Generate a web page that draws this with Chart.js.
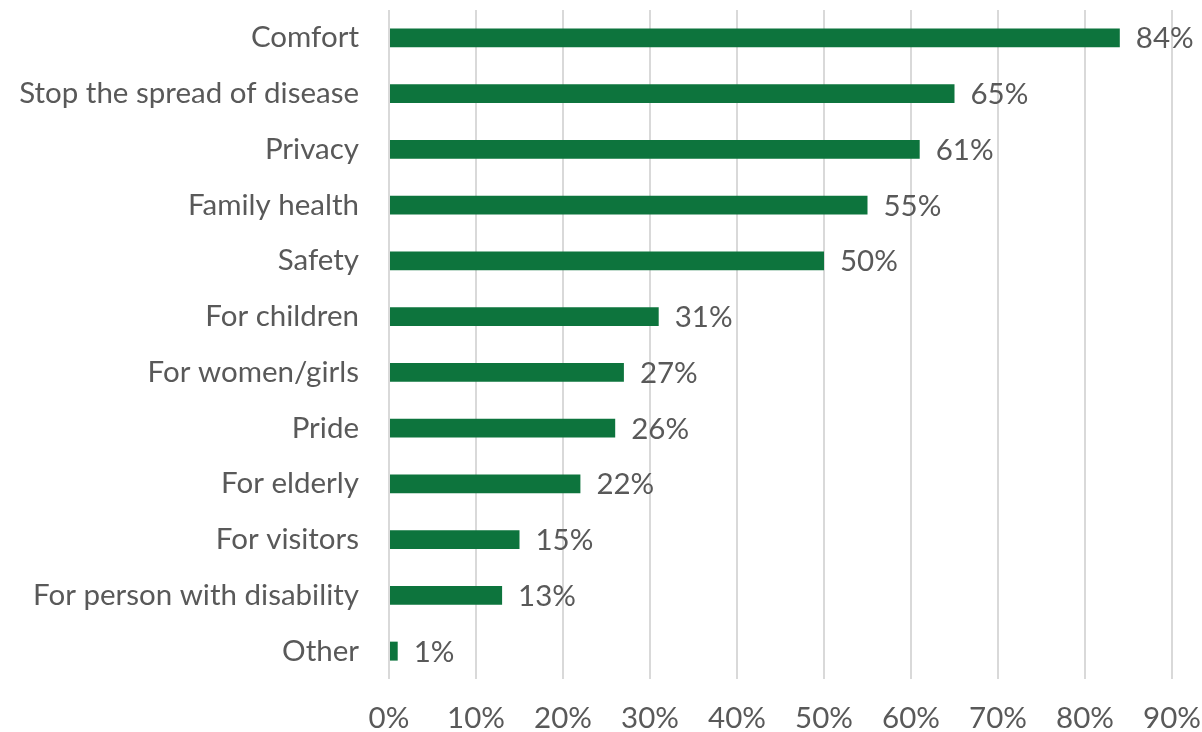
<!DOCTYPE html>
<html>
<head>
<meta charset="utf-8">
<script src="https://cdn.jsdelivr.net/npm/chart.js@4"></script>
<style>
  html, body { margin: 0; padding: 0; background: #fff; }
  #wrap { width: 1202px; height: 732px; }
</style>
</head>
<body>
<div id="wrap"><canvas id="reasonChart"></canvas></div>
<script>
// Reasons and share of respondents (%)
const reasons = [
    'Comfort',
    'Stop the spread of disease',
    'Privacy',
    'Family health',
    'Safety',
    'For children',
    'For women/girls',
    'Pride',
    'For elderly',
    'For visitors',
    'For person with disability',
    'Other'
];
const shares = [84, 65, 61, 55, 50, 31, 27, 26, 22, 15, 13, 1];
const xTicks = [0, 10, 20, 30, 40, 50, 60, 70, 80, 90];

const FONT = "Lato, 'Open Sans', sans-serif";
const FONT_SIZE = 29.5;
const TEXT = '#595959';

// Value labels after each bar
const valueLabels = {
    id: 'valueLabels',
    afterDatasetsDraw(chart) {
        const ctx = chart.ctx;
        const meta = chart.getDatasetMeta(0);
        ctx.save();
        ctx.font = `${FONT_SIZE}px ${FONT}`;
        ctx.fillStyle = TEXT;
        ctx.textAlign = 'left';
        ctx.textBaseline = 'middle';
        meta.data.forEach((bar, i) => {
            ctx.fillText(shares[i] + '%', bar.x + 16, bar.y + 1);
        });
        ctx.restore();
    }
};

new Chart(document.getElementById('reasonChart'), {
    type: 'bar',
    data: {
        labels: reasons,
        datasets: [{
            data: shares,
            backgroundColor: '#0d743d',
            barPercentage: 0.34,
            categoryPercentage: 1
        }]
    },
    options: {
        indexAxis: 'y',
        responsive: true,
        maintainAspectRatio: false,
        animation: false,
        layout: { padding: { top: 10, right: 30, bottom: 0, left: 0 } },
        plugins: {
            legend: { display: false },
            tooltip: { enabled: false }
        },
        scales: {
            x: {
                min: 0,
                max: 90,
                afterBuildTicks(axis) {
                    axis.ticks = xTicks.map(v => ({ value: v }));
                },
                afterFit(axis) {
                    axis.height = 53;
                    axis.paddingLeft = 0;
                    axis.paddingRight = 0;
                },
                grid: { color: '#d9d9d9', lineWidth: 2, drawTicks: false },
                border: { display: false },
                ticks: {
                    color: TEXT,
                    font: { family: FONT, size: FONT_SIZE },
                    padding: 22,
                    maxRotation: 0,
                    callback: v => v + '%'
                }
            },
            y: {
                afterFit(axis) {
                    axis.width = 389;
                    axis.paddingTop = 0;
                    axis.paddingBottom = 0;
                },
                grid: { display: false, drawTicks: false },
                border: { display: false },
                ticks: {
                    color: TEXT,
                    font: { family: FONT, size: FONT_SIZE },
                    padding: 30
                }
            }
        }
    },
    plugins: [valueLabels]
});
</script>
</body>
</html>
